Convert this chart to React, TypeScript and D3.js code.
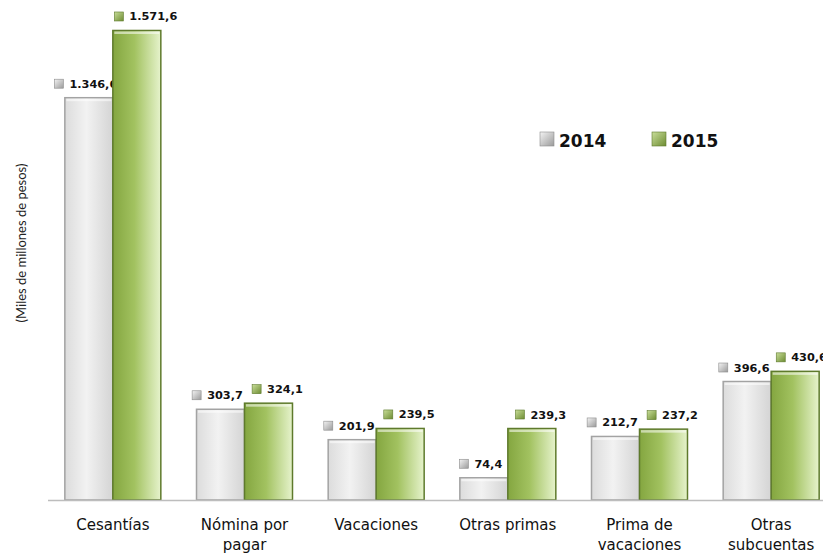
import React from "react";
import * as d3 from "d3";

const categories = ["Cesantías", "Nómina por\npagar", "Vacaciones", "Otras primas", "Prima de\nvacaciones", "Otras\nsubcuentas"];
const series = ["2014", "2015"];
const values2014 = [1346.6, 303.7, 201.9, 74.4, 212.7, 396.6];
const values2015 = [1571.6, 324.1, 239.5, 239.3, 237.2, 430.6];
const valueLabels2014 = ["1.346,6", "303,7", "201,9", "74,4", "212,7", "396,6"];
const valueLabels2015 = ["1.571,6", "324,1", "239,5", "239,3", "237,2", "430,6"];
const yMax = 1600;
const axisTitle = "(Miles de millones de pesos)";

const W = 823;
const H = 554;

function labelWidth(s: string, size: number) {
  let w = 0;
  for (const ch of s) w += ch === "." || ch === "," ? 0.38 : 0.696;
  return w * size;
}

export default function App() {
  const x0 = d3.scaleBand<string>().domain(categories).range([47, 837]).paddingInner(0.271).paddingOuter(0.1355);
  const x1 = d3.scaleBand<string>().domain(series).range([0, x0.bandwidth()]);
  const y = d3.scaleLinear().domain([0, yMax]).range([500, 22]);

  const data = [
    { key: "2014", vals: values2014, labels: valueLabels2014, fill: "url(#g14)", stroke: "#a3a3a3", marker: "url(#m14)", mstroke: "#8c8c8c", off: -3 },
    { key: "2015", vals: values2015, labels: valueLabels2015, fill: "url(#g15)", stroke: "#5e7a2c", marker: "url(#m15)", mstroke: "#5e7a2c", off: 9 },
  ];
  const fs = 11.3;

  return (
    <svg width={W} height={H} style={{ position: "absolute", left: 0, top: 0, background: "#fff" }}>
      <defs>
        <linearGradient id="g14" x1="0" x2="1" y1="0" y2="0">
          <stop offset="0%" stopColor="#dcdcdc" />
          <stop offset="45%" stopColor="#f2f2f2" />
          <stop offset="100%" stopColor="#d4d4d4" />
        </linearGradient>
        <linearGradient id="g15" x1="0" x2="1" y1="0" y2="0">
          <stop offset="0%" stopColor="#84a640" />
          <stop offset="45%" stopColor="#a2c260" />
          <stop offset="100%" stopColor="#e6f3cc" />
        </linearGradient>
        <linearGradient id="m14" x1="0" x2="1" y1="0" y2="1">
          <stop offset="0%" stopColor="#f4f4f4" />
          <stop offset="100%" stopColor="#9a9a9a" />
        </linearGradient>
        <linearGradient id="m15" x1="0" x2="1" y1="0" y2="1">
          <stop offset="0%" stopColor="#c9de9a" />
          <stop offset="100%" stopColor="#6d8c32" />
        </linearGradient>
      </defs>

      <text
        transform={`translate(26, 243) rotate(-90)`}
        textAnchor="middle"
        fontFamily="Lato, 'Open Sans', sans-serif"
        fontSize={13}
        fill="#222"
      >
        {axisTitle}
      </text>

      {data.map((s) => (
        <g key={s.key}>
          {categories.map((c, i) => {
            const bx = (x0(c) as number) + (x1(s.key) as number);
            const bw = x1.bandwidth();
            const top = y(s.vals[i]);
            const cx = bx + bw / 2 + s.off;
            const tw = labelWidth(s.labels[i], fs);
            const total = 9 + 6 + tw;
            const lx = Math.min(cx - total / 2, W - total + 4);
            const ly = top - 14;
            return (
              <g key={c}>
                <rect x={bx} y={top} width={bw} height={y(0) - top} fill={s.fill} stroke={s.stroke} strokeWidth={1.5} />
                <rect x={bx + 1.5} y={top + 1} width={bw - 3} height={2.5} fill="#ffffff" opacity={0.55} />
                <rect x={lx} y={ly - 4.5} width={9} height={9} fill={s.marker} stroke={s.mstroke} strokeWidth={0.6} />
                <text x={lx + 15} y={ly + 4} fontFamily="'DejaVu Sans', Verdana, sans-serif" fontWeight="bold" fontSize={fs} fill="#111">
                  {s.labels[i]}
                </text>
              </g>
            );
          })}
        </g>
      ))}

      <line x1={48} x2={823} y1={500.5} y2={500.5} stroke="#bdbdbd" strokeWidth={1.5} />

      {categories.map((c) => {
        const cx = (x0(c) as number) + x0.bandwidth() / 2;
        const lines = c.split("\n");
        return (
          <text key={c} textAnchor="middle" fontFamily="'DejaVu Sans', Verdana, sans-serif" fontSize={15} fill="#111">
            {lines.map((l, k) => (
              <tspan key={k} x={cx} y={530 + k * 20}>
                {l}
              </tspan>
            ))}
          </text>
        );
      })}

      {series.map((k, i) => {
        const lx = 540 + i * 112;
        return (
          <g key={k}>
            <rect x={lx} y={132} width={14} height={14} fill={i === 0 ? "url(#m14)" : "url(#m15)"} stroke={i === 0 ? "#8c8c8c" : "#5e7a2c"} strokeWidth={0.6} />
            <text x={lx + 19} y={147} fontFamily="'DejaVu Sans', Verdana, sans-serif" fontWeight="bold" fontSize={17} fill="#111">
              {k}
            </text>
          </g>
        );
      })}
    </svg>
  );
}
